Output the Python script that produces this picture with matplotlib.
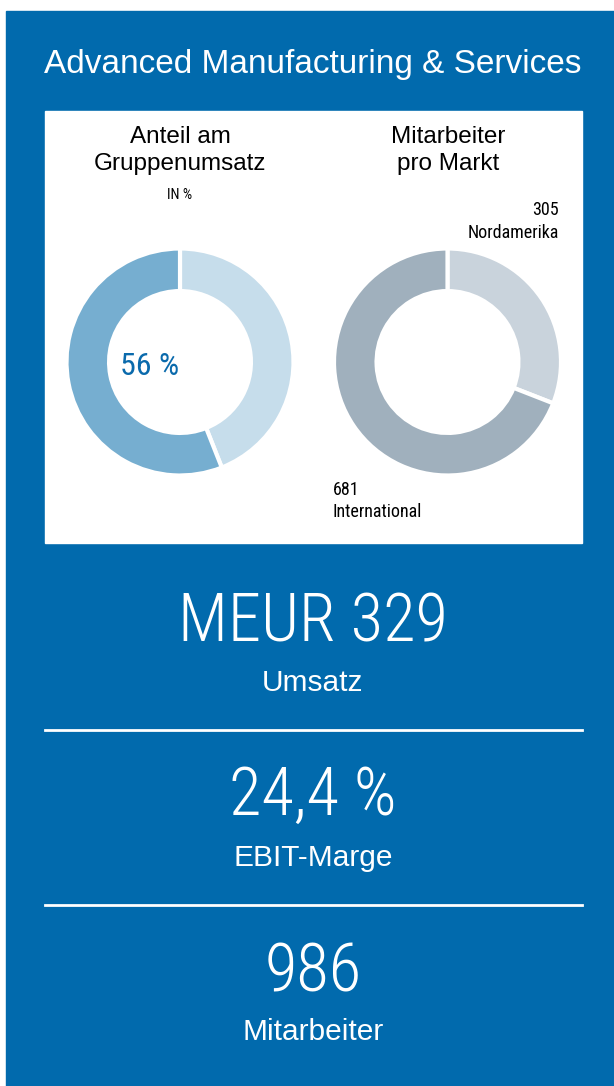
import matplotlib
matplotlib.use("Agg")
import matplotlib.pyplot as plt
from matplotlib.patches import Rectangle
from matplotlib import font_manager

# data
share_labels = ["Übrige Segmente", "Advanced Manufacturing & Services"]
share_values = [44, 56]
market_labels = ["Nordamerika", "International"]
market_values = [305, 681]
kpi_values = ["MEUR 329", "24,4 %", "986"]
kpi_labels = ["Umsatz", "EBIT-Marge", "Mitarbeiter"]

blue = "#016AAD"
W, H = 614, 1086

plt.rcParams['font.family'] = ['Liberation Sans', 'DejaVu Sans']
have = {f.name for f in font_manager.fontManager.ttflist}
if 'Roboto Condensed' in have:
    cond = ['Roboto Condensed', 'Liberation Sans', 'DejaVu Sans']
    big = 48
else:
    cond = ['Liberation Sans', 'DejaVu Sans']
    big = 42

fig = plt.figure(figsize=(W / 100, H / 100), dpi=100)
bg = fig.add_axes([0, 0, 1, 1])
bg.set_xlim(0, W)
bg.set_ylim(H, 0)
bg.axis('off')

# blue card + white chart panel
bg.add_patch(Rectangle((6, 11), W - 6, H - 11, color=blue, zorder=0))
bg.add_patch(Rectangle((45, 111), 537, 432, color='white', zorder=1))

bg.text(313, 73, "Advanced Manufacturing & Services", color='white',
        fontsize=24, ha='center', va='baseline')

# panel titles
bg.text(180, 143, "Anteil am", fontsize=17.5, ha='center', va='baseline', zorder=2)
bg.text(180, 170, "Gruppenumsatz", fontsize=17.5, ha='center', va='baseline', zorder=2)
bg.text(180, 199, "IN %", fontsize=10.5, ha='center', va='baseline', zorder=2,
        family=cond)
bg.text(448, 143, "Mitarbeiter", fontsize=17.5, ha='center', va='baseline', zorder=2)
bg.text(448, 170, "pro Markt", fontsize=17.5, ha='center', va='baseline', zorder=2)


def donut(cx, cy, r, values, colors):
    ax = fig.add_axes([(cx - r) / W, 1 - (cy + r) / H, 2 * r / W, 2 * r / H])
    ax.pie(values, colors=colors, startangle=90, counterclock=False,
           wedgeprops=dict(width=0.375, edgecolor='white', linewidth=3))
    ax.set_xlim(-1, 1)
    ax.set_ylim(-1, 1)
    ax.set_aspect('equal')
    ax.axis('off')
    return ax


donut(180, 362, 113.5, share_values, ['#C6DDEB', '#76AED0'])
donut(447.5, 362, 113.5, market_values, ['#C9D3DC', '#A0B0BD'])

bg.text(150, 375, f"{share_values[1]} %", color='#0A6AAC', fontsize=23,
        ha='center', va='baseline', family=cond, zorder=2)
bg.text(559, 215, f"{market_values[0]}", fontsize=13, ha='right',
        va='baseline', family=cond, zorder=2)
bg.text(559, 238, market_labels[0], fontsize=13, ha='right',
        va='baseline', family=cond, zorder=2)
bg.text(333, 495, f"{market_values[1]}", fontsize=13, ha='left',
        va='baseline', family=cond, zorder=2)
bg.text(333, 517, market_labels[1], fontsize=13, ha='left',
        va='baseline', family=cond, zorder=2)

# KPI blocks
value_y = [641, 815, 992]
label_y = [691, 866, 1040]
for v, l, vy, ly in zip(kpi_values, kpi_labels, value_y, label_y):
    bg.text(313, vy, v, color='white', fontsize=big, ha='center', va='baseline',
            family=cond, fontweight='light')
    bg.text(313, ly, l, color='white', fontsize=21.5, ha='center', va='baseline')

for y in [730, 905]:
    bg.plot([45, 582], [y, y], color='white', lw=2)

fig.savefig("out.png", dpi=100, facecolor='white')
